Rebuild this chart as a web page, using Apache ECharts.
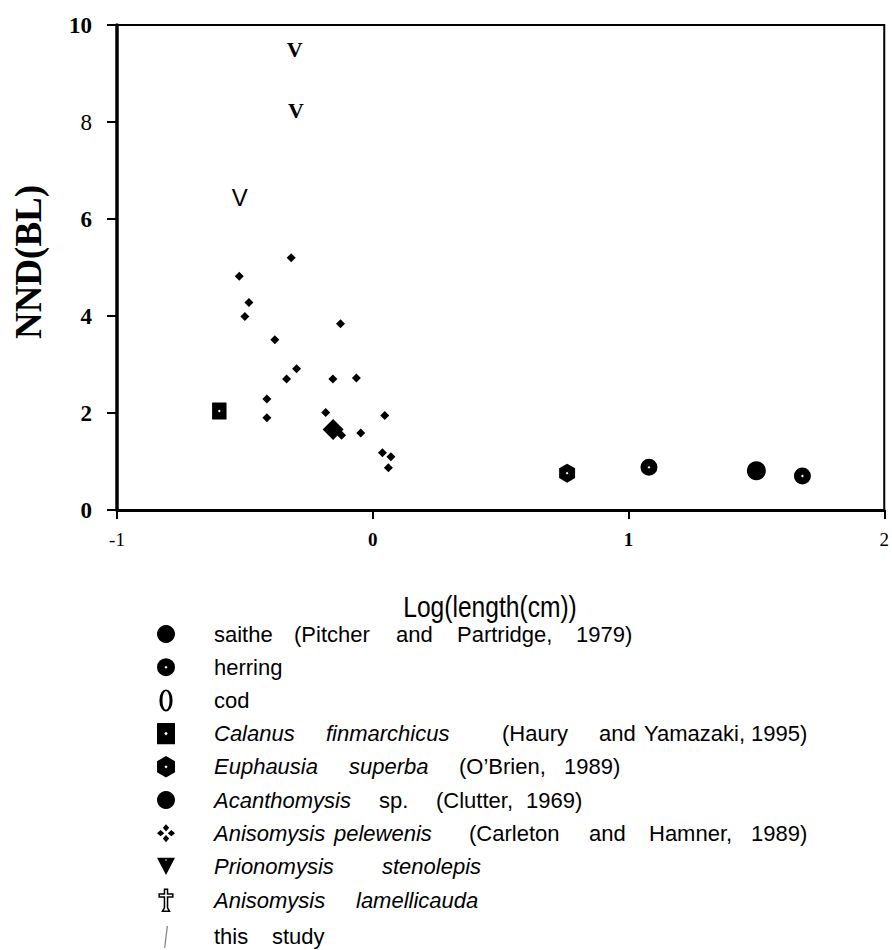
<!DOCTYPE html>
<html>
<head>
<meta charset="utf-8">
<script src="https://cdn.jsdelivr.net/npm/echarts@6/dist/echarts.min.js"></script>
<style>
html,body{margin:0;padding:0;background:#fff;}
#chart{width:892px;height:950px;}
</style>
</head>
<body>
<div id="chart"></div>
<script>
// ---------------- DATA ----------------
const xTickLabels = ['-1', '0', '1', '2'];
const yTickLabels = ['0', '2', '4', '6', '8', '10'];

const legendNames = [
  'saithe (Pitcher and Partridge, 1979)',
  'herring',
  'cod',
  'Calanus finmarchicus (Haury and Yamazaki, 1995)',
  'Euphausia superba (O’Brien, 1989)',
  'Acanthomysis sp. (Clutter, 1969)',
  'Anisomysis pelewenis (Carleton and Hamner, 1989)',
  'Prionomysis stenolepis',
  'Anisomysis lamellicauda',
  'this study'
];

const saitheData = [[1.50, 0.81]];
const herringData = [[1.08, 0.88], [1.68, 0.70]];
const codData = [];
const calanusData = [[-0.60, 2.04]];
const euphausiaData = [[0.76, 0.76]];
const acanthomysisData = [];
const pelewenisData = [];
const prionomysisSerifData = [[-0.305, 9.50], [-0.30, 8.23]];
const prionomysisSansData = [[-0.52, 6.45]];
const lamellicaudaData = [[-0.155, 1.66]];
const thisStudyData = [
  [-0.319, 5.20], [-0.522, 4.82], [-0.484, 4.28], [-0.500, 3.99], [-0.126, 3.84],
  [-0.383, 3.51], [-0.298, 2.91], [-0.337, 2.70], [-0.156, 2.70], [-0.064, 2.72],
  [-0.414, 2.29], [-0.414, 1.90], [-0.184, 2.01], [0.047, 1.95], [-0.047, 1.59],
  [-0.122, 1.54], [0.038, 1.18], [0.071, 1.10], [0.061, 0.87]
];

// ---------------- LAYOUT / STYLE ----------------
function hasFont(name) {
  const c = document.createElement('canvas').getContext('2d');
  const s = 'abcdefgWMil0123';
  c.font = '40px monospace';
  const w1 = c.measureText(s).width;
  c.font = '40px "' + name + '", monospace';
  return c.measureText(s).width !== w1;
}
const narrow = hasFont('Liberation Sans Narrow');
const sansFam = narrow ? '"Liberation Sans Narrow"' : '"Liberation Sans", Arial';
const legendFont = narrow ? 26 : 22;

// word start x positions (absolute px) and number of leading italic words per legend row
const legendWordX = [
  [215, 295, 397, 458, 577],
  [215],
  [215],
  [215, 327, 503, 600, 645, 752],
  [215, 350, 460, 565],
  [215, 380, 437, 527],
  [215, 335, 470, 590, 650, 752],
  [215, 383],
  [215, 357],
  [215, 273]
];
const legendItalic = [0, 0, 0, 2, 2, 1, 2, 2, 2, 0];
const legendLeft = 157, iconW = 18;
const spacerW = 34;

const rich = {
  g: {width: spacerW, lineHeight: 22, fontSize: legendFont}
};
legendWordX.forEach((xs, r) => {
  xs.forEach((x, k) => {
    const st = {
      fontSize: legendFont, fontFamily: sansFam, color: '#000', lineHeight: 22,
      fontStyle: k < legendItalic[r] ? 'italic' : 'normal'
    };
    if (k < xs.length - 1) st.width = xs[k + 1] - x;
    rich['w' + r + '_' + k] = st;
  });
});

function legendFormatter(name) {
  const r = legendNames.indexOf(name);
  const words = name.split(' ');
  let s = '{g| }';
  words.forEach((w, k) => { s += '{w' + r + '_' + k + '|' + w + '}'; });
  return s;
}

const P = {
  circleHole: 'path://M-1,0 A1,1 0 1,1 1,0 A1,1 0 1,1 -1,0 Z M0,-0.17 L-0.17,0 L0,0.17 L0.17,0 Z',
  squareHole: 'path://M-0.85,-0.95 Q-0.85,-1 -0.8,-1 L0.8,-1 Q0.85,-1 0.85,-0.95 L0.85,0.95 Q0.85,1 0.8,1 L-0.8,1 Q-0.85,1 -0.85,0.95 Z M0,-0.17 L-0.17,0 L0,0.17 L0.17,0 Z',
  hexHole: 'path://M0,-1 L0.84,-0.52 L0.84,0.52 L0,1 L-0.84,0.52 L-0.84,-0.52 Z M0,-0.15 L-0.15,0 L0,0.15 L0.15,0 Z',
  zero: 'path://M0,-1 A0.6,1 0 1,1 0,1 A0.6,1 0 1,1 0,-1 Z M0,-0.86 A0.32,0.86 0 1,0 0,0.86 A0.32,0.86 0 1,0 0,-0.86 Z',
  fourDiamond: 'path://M0,-1 L0.35,-0.6 L0,-0.2 L-0.35,-0.6 Z M-0.6,-0.35 L-0.2,0 L-0.6,0.35 L-1,0 Z M0.6,-0.35 L1,0 L0.6,0.35 L0.2,0 Z M0,0.2 L0.35,0.6 L0,1 L-0.35,0.6 Z',
  triDown: 'path://M-1,-0.9 L1,-0.9 L0,1 Z M0,-0.75 L-0.1,-0.65 L0,-0.55 L0.1,-0.65 Z',
  cross: 'path://M-0.14,-1 L0.14,-1 L0.14,-0.58 L0.62,-0.58 L0.62,-0.3 L0.14,-0.3 L0.14,0.68 L0.32,1 L-0.32,1 L-0.14,0.68 L-0.14,-0.3 L-0.62,-0.3 L-0.62,-0.58 L-0.14,-0.58 Z',
  line: 'path://M0.12,-1 L-0.12,1'
};

const legendIcons = [
  {icon: 'circle'},
  {icon: P.circleHole},
  {icon: P.zero},
  {icon: P.squareHole},
  {icon: P.hexHole},
  {icon: 'circle'},
  {icon: P.fourDiamond},
  {icon: P.triDown, itemStyle: {color: '#000', opacity: 1}},
  {icon: P.cross, itemStyle: {color: '#fff', borderColor: '#000', borderWidth: 1.5, opacity: 1}},
  {icon: P.line, itemStyle: {color: 'none', borderColor: '#888', borderWidth: 1.3, opacity: 1}}
];

const boldX = new Set(['0', '1']);
const boldY = new Set(['0', '2', '4', '6', '10']);
const serif = '"Liberation Serif", "Times New Roman", serif';

function baseSeries(name, data, symbol, size, extra) {
  return Object.assign({
    type: 'scatter', name: name, data: data, symbol: symbol, symbolSize: size,
    symbolKeepAspect: true,
    itemStyle: {color: '#000', opacity: 1},
    emphasis: {disabled: true}, silent: true
  }, extra || {});
}

const vLabel = (fam, weight, size) => ({
  show: true, position: 'inside', formatter: 'V', color: '#000', opacity: 1,
  fontFamily: fam, fontWeight: weight, fontSize: size
});

const option = {
  animation: false,
  backgroundColor: '#fff',
  grid: {left: 117, right: 7, top: 25, bottom: 440, show: true, borderColor: '#000', borderWidth: 2},
  xAxis: {
    type: 'value', min: -1, max: 2, interval: 1,
    axisLine: {show: true, onZero: false, lineStyle: {color: '#000', width: 3}},
    axisTick: {show: true, length: 9, lineStyle: {color: '#000', width: 2}},
    splitLine: {show: false},
    axisLabel: {
      margin: 20, color: '#000',
      formatter: v => {
        const t = xTickLabels[Math.round(v + 1)];
        return (boldX.has(t) ? '{b|' : '{r|') + t + '}';
      },
      rich: {
        b: {fontFamily: serif, fontWeight: 'bold', fontSize: 19, color: '#000'},
        r: {fontFamily: serif, fontWeight: 'normal', fontSize: 19, color: '#000'}
      }
    }
  },
  yAxis: {
    type: 'value', min: 0, max: 10, interval: 2,
    axisLine: {show: true, onZero: false, lineStyle: {color: '#000', width: 3.5}},
    axisTick: {show: true, length: 10, lineStyle: {color: '#000', width: 2}},
    splitLine: {show: false},
    axisLabel: {
      margin: 25, color: '#000',
      formatter: v => {
        const t = yTickLabels[Math.round(v / 2)];
        return (boldY.has(t) ? '{b|' : '{r|') + t + '}';
      },
      rich: {
        b: {fontFamily: serif, fontWeight: 'bold', fontSize: 23, color: '#000'},
        r: {fontFamily: serif, fontWeight: 'normal', fontSize: 23, color: '#000'}
      }
    }
  },
  legend: {
    orient: 'vertical', left: legendLeft, top: 623, height: 600, padding: 0,
    itemWidth: iconW, itemHeight: 22, itemGap: 11.2,
    selectedMode: false,
    inactiveColor: '#000',
    textStyle: {fontSize: legendFont, fontFamily: sansFam, color: '#000', lineHeight: 22, rich: rich},
    formatter: legendFormatter,
    data: legendNames.map((n, i) => Object.assign({name: n}, legendIcons[i]))
  },
  graphic: [
    {
      type: 'text', x: 28, y: 262, rotation: Math.PI / 2,
      style: {text: 'NND(BL)', fontFamily: serif, fontWeight: 'bold', fontSize: 37, fill: '#000', align: 'center', verticalAlign: 'middle'}
    },
    {
      type: 'text', x: 490, y: 607, scaleX: narrow ? 1 : 0.82,
      style: {text: 'Log(length(cm))', fontFamily: sansFam, fontSize: 30, fill: '#000', align: 'center', verticalAlign: 'middle'}
    }
  ],
  series: [
    baseSeries(legendNames[0], saitheData, 'circle', 19),
    baseSeries(legendNames[1], herringData, P.circleHole, 17),
    baseSeries(legendNames[2], codData, P.zero, 16),
    baseSeries(legendNames[3], calanusData, P.squareHole, 17),
    baseSeries(legendNames[4], euphausiaData, P.hexHole, 19),
    baseSeries(legendNames[5], acanthomysisData, 'circle', 17),
    baseSeries(legendNames[6], pelewenisData, P.fourDiamond, 16),
    baseSeries(legendNames[7], prionomysisSerifData, 'circle', 2, {
      itemStyle: {color: 'rgba(0,0,0,0)', opacity: 1},
      label: vLabel(serif, 'bold', 22)
    }),
    baseSeries(legendNames[7], prionomysisSansData, 'circle', 2, {
      itemStyle: {color: 'rgba(0,0,0,0)', opacity: 1},
      label: vLabel('"Liberation Sans", Arial, sans-serif', 'normal', 24)
    }),
    baseSeries(legendNames[8], lamellicaudaData, 'diamond', 21, {z: 3}),
    baseSeries(legendNames[9], thisStudyData, 'diamond', 9, {z: 2})
  ]
};

const chart = echarts.init(document.getElementById('chart'), null, {renderer: 'svg'});
chart.setOption(option);
</script>
</body>
</html>
